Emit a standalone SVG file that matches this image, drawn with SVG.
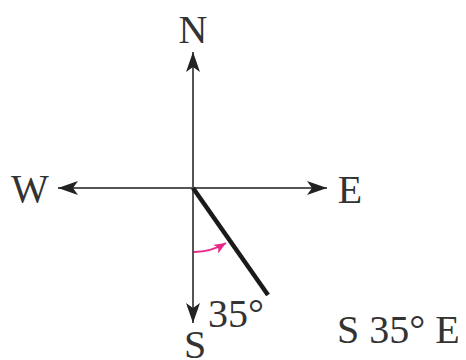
<svg xmlns="http://www.w3.org/2000/svg" width="466" height="360" viewBox="0 0 466 360">
<style>
.t{font-family:"Liberation Serif","Times New Roman",serif;font-size:40px;fill:#333}
.ax{stroke:#555;stroke-width:2;fill:none}
</style>
<defs>
<marker id="ah" viewBox="0 0 20 14" refX="20" refY="7" markerWidth="20" markerHeight="14" markerUnits="userSpaceOnUse" orient="auto">
<path d="M0,0 L20,7 L0,14 L5,7 Z" fill="#222"/>
</marker>
<marker id="pk" viewBox="0 0 12 10" refX="12" refY="5" markerWidth="12" markerHeight="10" markerUnits="userSpaceOnUse" orient="auto">
<path d="M0,0 L12,5 L0,10 L3,5 Z" fill="#e8268c"/>
</marker>
</defs>
<g id="connectors">
<line class="ax" x1="193" y1="188" x2="193" y2="52" marker-end="url(#ah)"/>
<line class="ax" x1="193" y1="188" x2="193" y2="323" marker-end="url(#ah)"/>
<line class="ax" x1="193" y1="188" x2="58" y2="188" marker-end="url(#ah)"/>
<line class="ax" x1="193" y1="188" x2="327" y2="188" marker-end="url(#ah)"/>
<line x1="193" y1="188" x2="268" y2="295" stroke="#1a1a1a" stroke-width="4.5"/>
<path d="M194,252 A64,64 0 0 0 226,243" fill="none" stroke="#e8268c" stroke-width="2" marker-end="url(#pk)"/>
</g>
<g id="N"><text class="t" x="193" y="43" text-anchor="middle">N</text></g>
<g id="W"><text class="t" x="30" y="202" text-anchor="middle">W</text></g>
<g id="E"><text class="t" x="350" y="203" text-anchor="middle">E</text></g>
<g id="S"><text class="t" x="195" y="358" text-anchor="middle">S</text></g>
<g id="angle"><text class="t" x="208" y="327">35°</text></g>
<g id="bearing"><text class="t" x="337" y="343">S 35° E</text></g>
</svg>
